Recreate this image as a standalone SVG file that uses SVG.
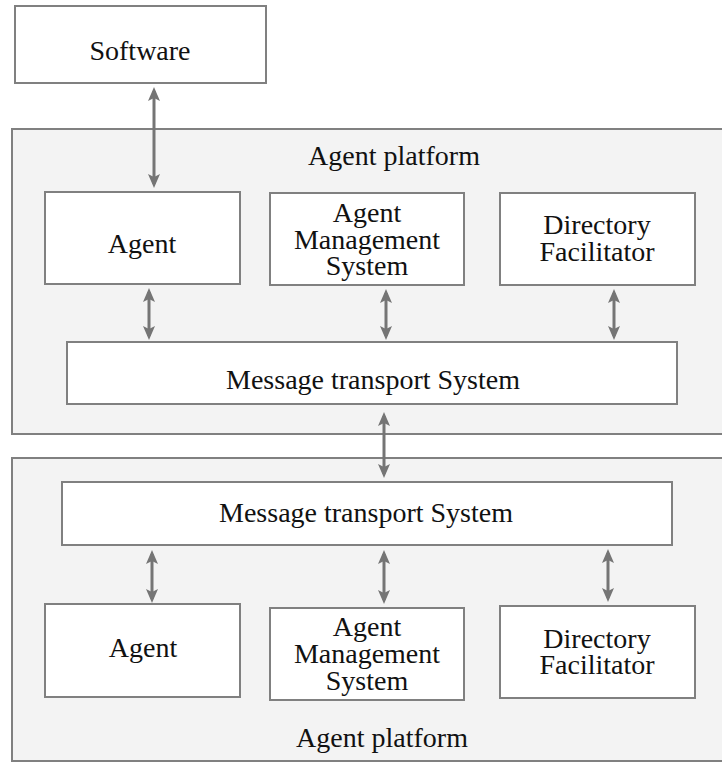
<svg xmlns="http://www.w3.org/2000/svg" width="722" height="763" viewBox="0 0 722 763">
  <defs>
    <style>
      .platform { fill: #f3f3f3; stroke: #808080; stroke-width: 2; }
      .box { fill: #ffffff; stroke: #808080; stroke-width: 2; }
      .label { font-family: "Liberation Serif", "Times New Roman", serif; font-size: 28px; fill: #111111; text-anchor: middle; }
      .link { stroke: #757575; stroke-width: 3; fill: none; marker-start: url(#head); marker-end: url(#head); }
    </style>
    <!-- filled head; line ends 4px short of the tip -->
    <marker id="head" viewBox="0 0 14 12" refX="10" refY="6" markerWidth="14" markerHeight="12" markerUnits="userSpaceOnUse" orient="auto-start-reverse">
      <path d="M0,0 L14,6 L0,12 L3,6 z" fill="#757575"/>
    </marker>
  </defs>

  <!-- platform backgrounds -->
  <g id="platform-top">
    <rect class="platform" x="12" y="129" width="720" height="305"/>
    <text class="label" x="394" y="165">Agent platform</text>
  </g>
  <g id="platform-bottom">
    <rect class="platform" x="12" y="458" width="720" height="303"/>
    <text class="label" x="382" y="747">Agent platform</text>
  </g>

  <g id="software">
    <rect class="box" x="15" y="6" width="251" height="77"/>
    <text class="label" x="140" y="60">Software</text>
  </g>

  <!-- upper platform -->
  <g id="agent-top">
    <rect class="box" x="45" y="192" width="195" height="92"/>
    <text class="label" x="142" y="253">Agent</text>
  </g>
  <g id="ams-top">
    <rect class="box" x="270" y="193" width="194" height="92"/>
    <text class="label" x="367" y="222">Agent</text>
    <text class="label" x="367" y="249">Management</text>
    <text class="label" x="367" y="275">System</text>
  </g>
  <g id="df-top">
    <rect class="box" x="500" y="193" width="195" height="92"/>
    <text class="label" x="597" y="234">Directory</text>
    <text class="label" x="597" y="261">Facilitator</text>
  </g>
  <g id="mts-top">
    <rect class="box" x="67" y="342" width="610" height="62"/>
    <text class="label" x="373" y="389">Message transport System</text>
  </g>

  <!-- lower platform -->
  <g id="mts-bottom">
    <rect class="box" x="62" y="482" width="610" height="63"/>
    <text class="label" x="366" y="522">Message transport System</text>
  </g>
  <g id="agent-bottom">
    <rect class="box" x="45" y="604" width="195" height="93"/>
    <text class="label" x="143" y="657">Agent</text>
  </g>
  <g id="ams-bottom">
    <rect class="box" x="270" y="608" width="194" height="92"/>
    <text class="label" x="367" y="636">Agent</text>
    <text class="label" x="367" y="663">Management</text>
    <text class="label" x="367" y="690">System</text>
  </g>
  <g id="df-bottom">
    <rect class="box" x="500" y="606" width="195" height="92"/>
    <text class="label" x="597" y="648">Directory</text>
    <text class="label" x="597" y="674">Facilitator</text>
  </g>

  <!-- connectors -->
  <g id="connectors">
    <line class="link" x1="154" y1="91" x2="154" y2="184"/>
    <line class="link" x1="149" y1="292" x2="149" y2="336"/>
    <line class="link" x1="386" y1="293" x2="386" y2="336"/>
    <line class="link" x1="614" y1="293" x2="614" y2="336"/>
    <line class="link" x1="384" y1="416" x2="384" y2="474"/>
    <line class="link" x1="152" y1="554" x2="152" y2="599"/>
    <line class="link" x1="384" y1="554" x2="384" y2="600"/>
    <line class="link" x1="608" y1="553" x2="608" y2="598"/>
  </g>
</svg>
